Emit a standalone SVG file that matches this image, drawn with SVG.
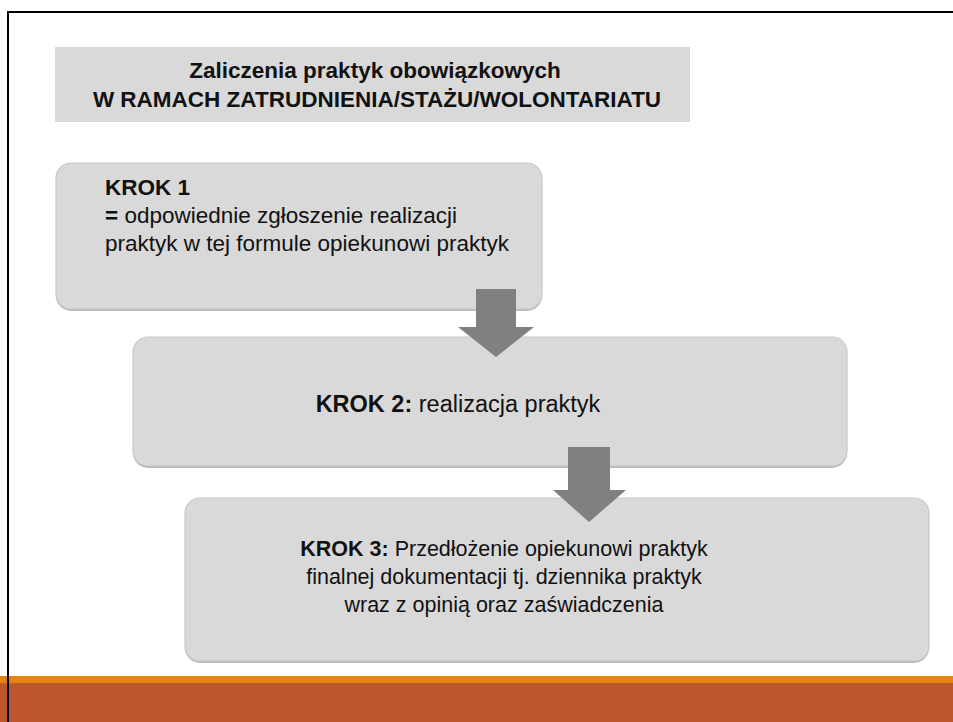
<svg xmlns="http://www.w3.org/2000/svg" width="953" height="722" viewBox="0 0 953 722">
<style>
.box{fill:#d9d9d9;stroke:#c8c8c8;stroke-width:1.2}
.sh{fill:#b8b8b8}
.t{font-family:"Liberation Sans",Arial,sans-serif;fill:#111}
.b{font-weight:bold}
.arr{fill:#808080}
</style>
<rect x="0" y="0" width="953" height="722" fill="#fff"/>
<path d="M8,722 V12 H953" fill="none" stroke="#000" stroke-width="2"/>
<g id="title">
<rect x="55" y="47" width="635" height="75" fill="#d9d9d9"/>
<text class="t b" x="375" y="78" font-size="22.5" text-anchor="middle">Zaliczenia praktyk obowiązkowych</text>
<text class="t b" x="377" y="107" font-size="22.5" text-anchor="middle">W RAMACH ZATRUDNIENIA/STAŻU/WOLONTARIATU</text>
</g>
<g id="krok1">
<rect class="sh" x="56" y="165" width="486" height="146" rx="15"/>
<rect class="box" x="56" y="163" width="486" height="146" rx="15"/>
<text class="t b" x="105" y="195" font-size="22.5">KROK 1</text>
<text class="t" x="105" y="223" font-size="22.5"><tspan class="b">=</tspan> odpowiednie zgłoszenie realizacji</text>
<text class="t" x="105" y="251" font-size="22.5">praktyk w tej formule opiekunowi praktyk</text>
</g>
<g id="krok2">
<rect class="sh" x="133" y="339" width="714" height="129" rx="15"/>
<rect class="box" x="133" y="337" width="714" height="129" rx="15"/>
<text class="t" x="458" y="412" font-size="23.5" text-anchor="middle"><tspan class="b">KROK 2:</tspan> realizacja praktyk</text>
</g>
<g id="krok3">
<rect class="sh" x="185" y="500" width="744" height="163" rx="15"/>
<rect class="box" x="185" y="498" width="744" height="163" rx="15"/>
<text class="t" x="504" y="556" font-size="21.5" text-anchor="middle"><tspan class="b">KROK 3:</tspan> Przedłożenie opiekunowi praktyk</text>
<text class="t" x="504" y="584" font-size="21.5" text-anchor="middle">finalnej dokumentacji tj. dziennika praktyk</text>
<text class="t" x="504" y="612" font-size="21.5" text-anchor="middle">wraz z opinią oraz zaświadczenia</text>
</g>
<g id="connectors">
<polygon class="arr" points="476,289 516,289 516,327 534,327 496,357 458,327 476,327"/>
<polygon class="arr" points="568,447 610,447 610,490 626,490 589,522 553,490 568,490"/>
</g>
<rect x="0" y="676" width="953" height="7" fill="#e48312"/>
<rect x="0" y="683" width="953" height="39" fill="#bd582c"/>
<line x1="8" y1="676" x2="8" y2="722" stroke="#000" stroke-width="2"/>
</svg>
